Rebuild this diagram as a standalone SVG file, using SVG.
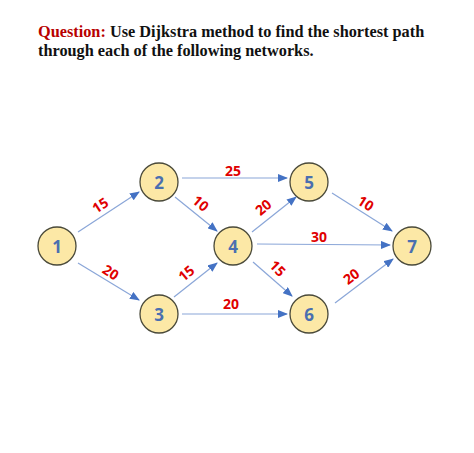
<svg xmlns="http://www.w3.org/2000/svg" width="474" height="453" viewBox="0 0 474 453">
<defs>
<marker id="ah" markerWidth="10" markerHeight="8" refX="9" refY="4" orient="auto" markerUnits="userSpaceOnUse">
<path d="M0,0 L10,4 L0,8 Z" fill="#4472c4"/>
</marker>
<style>
.title{font-family:"Liberation Serif",serif;font-weight:bold;font-size:16.3px;fill:#111}
.q{fill:#b80000}
.node circle{fill:#fce8a6;stroke:#4a4a3a;stroke-width:1.3}
.node text{font-family:"Open Sans","Liberation Sans",sans-serif;font-weight:bold;font-size:17px;fill:#4a6fb0;text-anchor:middle;dominant-baseline:central}
.edge{stroke:#8aa6d8;stroke-width:1.2;fill:none;marker-end:url(#ah)}
.lbl{font-family:"Open Sans","Liberation Sans",sans-serif;font-weight:bold;font-size:14px;fill:#e00000;text-anchor:middle;dominant-baseline:central}
</style>
</defs>
<rect width="474" height="453" fill="#fff"/>
<text class="title" x="38" y="37"><tspan class="q">Question:</tspan> Use Dijkstra method to find the shortest path</text>
<text class="title" x="38" y="56">through each of the following networks.</text>
<g id="connectors">
<line class="edge" x1="78" y1="232" x2="139" y2="192"/>
<line class="edge" x1="78" y1="263" x2="139" y2="300"/>
<line class="edge" x1="175" y1="197" x2="217" y2="231"/>
<line class="edge" x1="174" y1="297" x2="217" y2="263"/>
<line class="edge" x1="182" y1="178" x2="287" y2="178"/>
<line class="edge" x1="182" y1="314" x2="287" y2="314"/>
<line class="edge" x1="252" y1="232" x2="296" y2="197"/>
<line class="edge" x1="257" y1="244" x2="390" y2="245"/>
<line class="edge" x1="253" y1="262" x2="292" y2="296"/>
<line class="edge" x1="332" y1="193" x2="392" y2="231"/>
<line class="edge" x1="335" y1="303" x2="393" y2="259"/>
<text class="lbl" transform="translate(100,205) rotate(-33)">15</text>
<text class="lbl" transform="translate(111,272) rotate(33)">20</text>
<text class="lbl" x="233" y="170">25</text>
<text class="lbl" transform="translate(201,203) rotate(40)">10</text>
<text class="lbl" transform="translate(186,273) rotate(-40)">15</text>
<text class="lbl" x="231" y="303">20</text>
<text class="lbl" transform="translate(263,207) rotate(-40)">20</text>
<text class="lbl" x="319" y="236">30</text>
<text class="lbl" transform="translate(278,268) rotate(45)">15</text>
<text class="lbl" transform="translate(366,203) rotate(33)">10</text>
<text class="lbl" transform="translate(351,276) rotate(-37)">20</text>
</g>
<g id="n1" class="node"><circle cx="57" cy="246" r="19"/><text x="57" y="246">1</text></g>
<g id="n2" class="node"><circle cx="159" cy="182" r="19"/><text x="159" y="182">2</text></g>
<g id="n3" class="node"><circle cx="159" cy="314" r="19"/><text x="159" y="314">3</text></g>
<g id="n4" class="node"><circle cx="233" cy="246" r="19"/><text x="233" y="246">4</text></g>
<g id="n5" class="node"><circle cx="309" cy="182" r="19"/><text x="309" y="182">5</text></g>
<g id="n6" class="node"><circle cx="309" cy="314" r="19"/><text x="309" y="314">6</text></g>
<g id="n7" class="node"><circle cx="412" cy="246" r="19"/><text x="412" y="246">7</text></g>
</svg>
